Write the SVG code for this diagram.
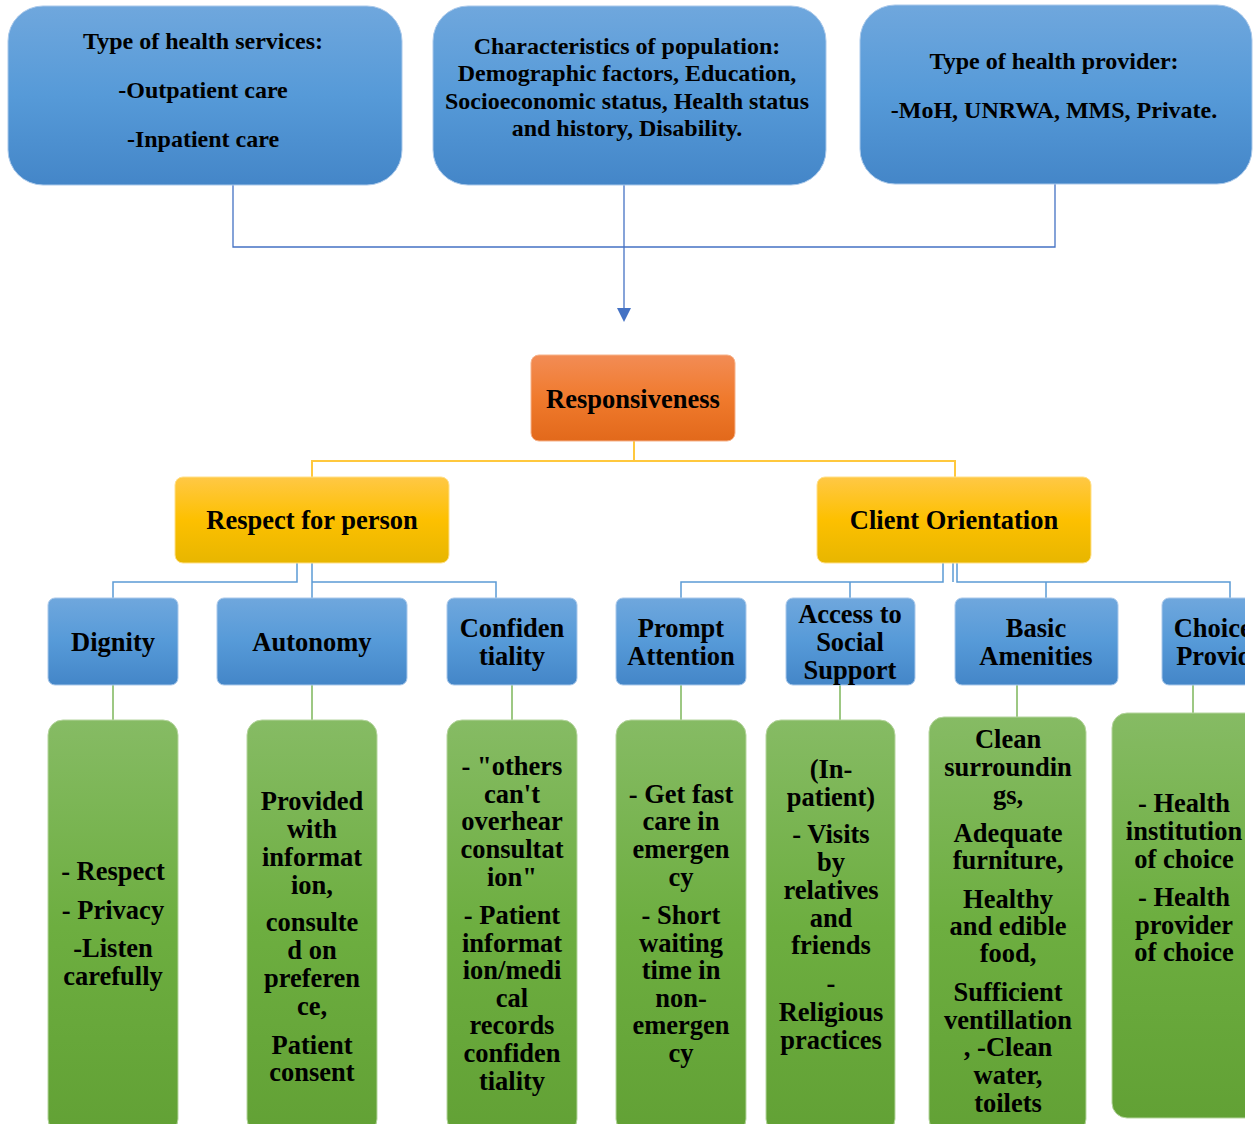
<svg xmlns="http://www.w3.org/2000/svg" width="1254" height="1124" viewBox="0 0 1254 1124">
<defs>
<linearGradient id="gBlue" x1="0" y1="0" x2="0" y2="1"><stop offset="0" stop-color="#6FA7DD"/><stop offset="0.5" stop-color="#569AD8"/><stop offset="1" stop-color="#4486C8"/></linearGradient>
<linearGradient id="gOrange" x1="0" y1="0" x2="0" y2="1"><stop offset="0" stop-color="#F28C55"/><stop offset="0.5" stop-color="#F07A2D"/><stop offset="1" stop-color="#E2691B"/></linearGradient>
<linearGradient id="gYellow" x1="0" y1="0" x2="0" y2="1"><stop offset="0" stop-color="#FFC845"/><stop offset="0.5" stop-color="#FDC000"/><stop offset="1" stop-color="#E7B600"/></linearGradient>
<linearGradient id="gGreen" x1="0" y1="0" x2="0" y2="1"><stop offset="0" stop-color="#86BB64"/><stop offset="0.5" stop-color="#6DAE40"/><stop offset="1" stop-color="#62A135"/></linearGradient>
<clipPath id="clipR"><rect x="0" y="0" width="1245" height="1124"/></clipPath>
</defs>
<style>
.t{font-family:"Liberation Serif","Times New Roman",serif;font-weight:bold;fill:#000;text-anchor:middle}
.top{font-size:24px}
.big{font-size:26.5px}
.blue{fill:url(#gBlue);stroke:#A9C8EA;stroke-width:1}
.orange{fill:url(#gOrange);stroke:#F6B28A;stroke-width:1}
.yellow{fill:url(#gYellow);stroke:#FFE08A;stroke-width:1}
.green{fill:url(#gGreen);stroke:#B5D59E;stroke-width:1}
.cb{fill:none;stroke:#4472C4;stroke-width:1.3}
.cy{fill:none;stroke:#FFC83D;stroke-width:2}
.cl{fill:none;stroke:#5B9BD5;stroke-width:1.5}
.cg{fill:none;stroke:#7DB65A;stroke-width:1.5}
</style>
<g id="connectors">
<polyline class="cb" points="233,185 233,247 1055,247 1055,184"/>
<line class="cb" x1="624" y1="185" x2="624" y2="308"/>
<path d="M617,308 L631,308 L624,322 Z" fill="#4472C4"/>
<line class="cy" x1="634" y1="441" x2="634" y2="461"/>
<polyline class="cy" points="312,477 312,461 955,461 955,477"/>
<polyline class="cl" points="297,563 297,582 113,582 113,598"/>
<polyline class="cl" points="312,563 312,598"/>
<polyline class="cl" points="312,582 496,582 496,598"/>
<polyline class="cl" points="943,563 943,582 681,582 681,598"/>
<polyline class="cl" points="953,563 953,582"/>
<polyline class="cl" points="957,563 957,582 1230,582 1230,598"/>
<line class="cl" x1="850" y1="582" x2="850" y2="598"/>
<line class="cl" x1="1046" y1="582" x2="1046" y2="598"/>
<line class="cg" x1="113" y1="685" x2="113" y2="720"/>
<line class="cg" x1="312" y1="685" x2="312" y2="720"/>
<line class="cg" x1="512" y1="685" x2="512" y2="720"/>
<line class="cg" x1="681" y1="685" x2="681" y2="720"/>
<line class="cg" x1="840" y1="685" x2="840" y2="720"/>
<line class="cg" x1="1017" y1="685" x2="1017" y2="717"/>
<line class="cg" x1="1193" y1="685" x2="1193" y2="713"/>
</g>
<g id="services">
<rect class="blue" x="8" y="6" width="394" height="179" rx="35"/>
<text class="t top" x="203" y="49">Type of health services:</text>
<text class="t top" x="203" y="98">-Outpatient care</text>
<text class="t top" x="203" y="147">-Inpatient care</text>
</g>
<g id="population">
<rect class="blue" x="433" y="6" width="393" height="179" rx="35"/>
<text class="t top" x="627" y="54">Characteristics of population:</text>
<text class="t top" x="627" y="81">Demographic factors, Education,</text>
<text class="t top" x="627" y="109">Socioeconomic status, Health status</text>
<text class="t top" x="627" y="136">and history, Disability.</text>
</g>
<g id="provider">
<rect class="blue" x="860" y="5" width="392" height="179" rx="35"/>
<text class="t top" x="1054" y="69">Type of health provider:</text>
<text class="t top" x="1054" y="118">-MoH, UNRWA, MMS, Private.</text>
</g>
<g id="responsiveness">
<rect class="orange" x="531" y="355" width="204" height="86" rx="8"/>
<text class="t big" x="633" y="408">Responsiveness</text>
</g>
<g id="respect">
<rect class="yellow" x="175" y="477" width="274" height="86" rx="8"/>
<text class="t big" x="312" y="529">Respect for person</text>
</g>
<g id="client">
<rect class="yellow" x="817" y="477" width="274" height="86" rx="8"/>
<text class="t big" x="954" y="529">Client Orientation</text>
</g>
<g id="dignity">
<rect class="blue" x="48" y="598" width="130" height="87" rx="7"/>
<text class="t big" x="113" y="651">Dignity</text>
</g>
<g id="autonomy">
<rect class="blue" x="217" y="598" width="190" height="87" rx="7"/>
<text class="t big" x="312" y="651">Autonomy</text>
</g>
<g id="confidentiality">
<rect class="blue" x="447" y="598" width="130" height="87" rx="7"/>
<text class="t big" x="512" y="637">Confiden</text>
<text class="t big" x="512" y="665">tiality</text>
</g>
<g id="prompt">
<rect class="blue" x="616" y="598" width="130" height="87" rx="7"/>
<text class="t big" x="681" y="637">Prompt</text>
<text class="t big" x="681" y="665">Attention</text>
</g>
<g id="access">
<rect class="blue" x="786" y="598" width="129" height="87" rx="7"/>
<text class="t big" x="850" y="623">Access to</text>
<text class="t big" x="850" y="651">Social</text>
<text class="t big" x="850" y="679">Support</text>
</g>
<g id="amenities">
<rect class="blue" x="955" y="598" width="163" height="87" rx="7"/>
<text class="t big" x="1036" y="637">Basic</text>
<text class="t big" x="1036" y="665">Amenities</text>
</g>
<g id="choice" clip-path="url(#clipR)">
<rect class="blue" x="1162" y="598" width="130" height="87" rx="7"/>
<text class="t big" x="1227" y="637">Choice of</text>
<text class="t big" x="1226" y="665">Provider</text>
</g>
<g id="dignity-items">
<rect class="green" x="48" y="720" width="130" height="414" rx="15"/>
<text class="t big" x="113" y="880">- Respect</text>
<text class="t big" x="113" y="919">- Privacy</text>
<text class="t big" x="113" y="957">-Listen</text>
<text class="t big" x="113" y="985">carefully</text>
</g>
<g id="autonomy-items">
<rect class="green" x="247" y="720" width="130" height="414" rx="15"/>
<text class="t big" x="312" y="810">Provided</text>
<text class="t big" x="312" y="838">with</text>
<text class="t big" x="312" y="866">informat</text>
<text class="t big" x="312" y="894">ion,</text>
<text class="t big" x="312" y="931">consulte</text>
<text class="t big" x="312" y="959">d on</text>
<text class="t big" x="312" y="987">preferen</text>
<text class="t big" x="312" y="1015">ce,</text>
<text class="t big" x="312" y="1054">Patient</text>
<text class="t big" x="312" y="1081">consent</text>
</g>
<g id="confidentiality-items">
<rect class="green" x="447" y="720" width="130" height="414" rx="15"/>
<text class="t big" x="512" y="775">- "others</text>
<text class="t big" x="512" y="803">can't</text>
<text class="t big" x="512" y="830">overhear</text>
<text class="t big" x="512" y="858">consultat</text>
<text class="t big" x="512" y="886">ion"</text>
<text class="t big" x="512" y="924">- Patient</text>
<text class="t big" x="512" y="952">informat</text>
<text class="t big" x="512" y="979">ion/medi</text>
<text class="t big" x="512" y="1007">cal</text>
<text class="t big" x="512" y="1034">records</text>
<text class="t big" x="512" y="1062">confiden</text>
<text class="t big" x="512" y="1090">tiality</text>
</g>
<g id="prompt-items">
<rect class="green" x="616" y="720" width="130" height="414" rx="15"/>
<text class="t big" x="681" y="803">- Get fast</text>
<text class="t big" x="681" y="830">care in</text>
<text class="t big" x="681" y="858">emergen</text>
<text class="t big" x="681" y="886">cy</text>
<text class="t big" x="681" y="924">- Short</text>
<text class="t big" x="681" y="952">waiting</text>
<text class="t big" x="681" y="979">time in</text>
<text class="t big" x="681" y="1007">non-</text>
<text class="t big" x="681" y="1034">emergen</text>
<text class="t big" x="681" y="1062">cy</text>
</g>
<g id="access-items">
<rect class="green" x="766" y="720" width="129" height="414" rx="15"/>
<text class="t big" x="831" y="778">(In-</text>
<text class="t big" x="831" y="806">patient)</text>
<text class="t big" x="831" y="843">- Visits</text>
<text class="t big" x="831" y="871">by</text>
<text class="t big" x="831" y="899">relatives</text>
<text class="t big" x="831" y="927">and</text>
<text class="t big" x="831" y="954">friends</text>
<text class="t big" x="831" y="992">-</text>
<text class="t big" x="831" y="1021">Religious</text>
<text class="t big" x="831" y="1049">practices</text>
</g>
<g id="amenities-items">
<rect class="green" x="929" y="717" width="157" height="417" rx="15"/>
<text class="t big" x="1008" y="748">Clean</text>
<text class="t big" x="1008" y="776">surroundin</text>
<text class="t big" x="1008" y="804">gs,</text>
<text class="t big" x="1008" y="842">Adequate</text>
<text class="t big" x="1008" y="869">furniture,</text>
<text class="t big" x="1008" y="908">Healthy</text>
<text class="t big" x="1008" y="935">and edible</text>
<text class="t big" x="1008" y="962">food,</text>
<text class="t big" x="1008" y="1001">Sufficient</text>
<text class="t big" x="1008" y="1029">ventillation</text>
<text class="t big" x="1008" y="1056">, -Clean</text>
<text class="t big" x="1008" y="1084">water,</text>
<text class="t big" x="1008" y="1112">toilets</text>
</g>
<g id="choice-items" clip-path="url(#clipR)">
<rect class="green" x="1112" y="713" width="160" height="405" rx="15"/>
<text class="t big" x="1184" y="812">- Health</text>
<text class="t big" x="1184" y="840">institution</text>
<text class="t big" x="1184" y="868">of choice</text>
<text class="t big" x="1184" y="906">- Health</text>
<text class="t big" x="1184" y="934">provider</text>
<text class="t big" x="1184" y="961">of choice</text>
</g>
</svg>
